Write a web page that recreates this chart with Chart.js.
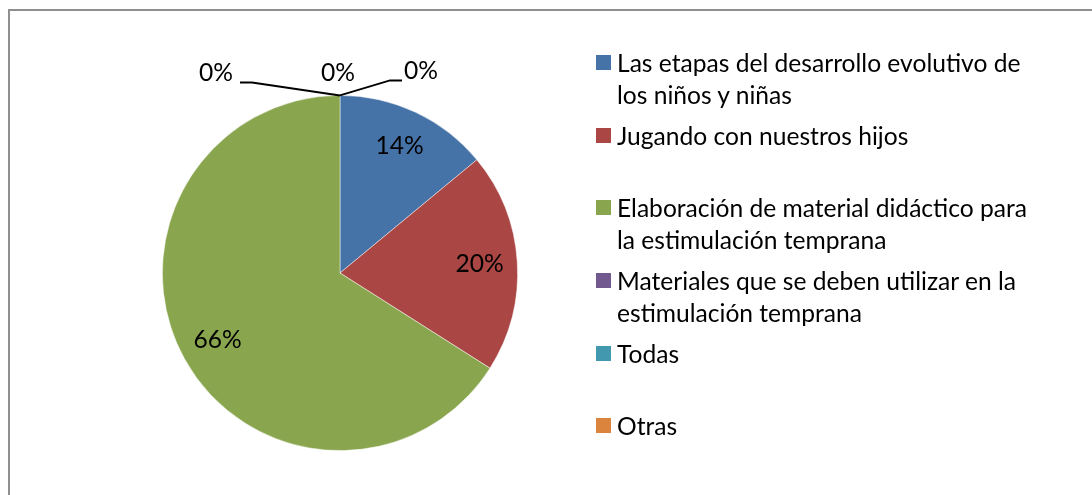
<!DOCTYPE html>
<html>
<head>
<meta charset="utf-8">
<script src="https://cdn.jsdelivr.net/npm/chart.js@4/dist/chart.umd.min.js"></script>
<style>
  html, body { margin: 0; padding: 0; background: #fff; }
  #wrap { position: relative; width: 1092px; height: 495px; overflow: hidden; }
  #frame { position: absolute; left: 8px; top: 9px; width: 1200px; height: 600px;
           border-left: 2px solid #8f8f8f; border-top: 2px solid #8f8f8f; }
  #c { position: absolute; left: 0; top: 0; }
  #legend { position: absolute; left: 596px; top: 47px; font-family: Lato, sans-serif;
            font-size: 24.6px; color: #000; }
  .item { position: relative; height: 72.7px; padding-left: 21px; line-height: 31.5px; white-space: nowrap; }
  .box { position: absolute; left: 0; top: 8px; width: 15px; height: 15px; }
</style>
</head>
<body>
<div id="wrap">
  <canvas id="c" width="1092" height="495"></canvas>
  <div id="legend"></div>
  <div id="frame"></div>
</div>
<script>
// Categories (each label split into its displayed lines)
const categories = [
    ['Las etapas del desarrollo evolutivo de', 'los niños y niñas'],
    ['Jugando con nuestros hijos'],
    ['Elaboración de material didáctico para', 'la estimulación temprana'],
    ['Materiales que se deben utilizar en la', 'estimulación temprana'],
    ['Todas'],
    ['Otras']
];
// Percentages per category
const percentages = [14, 20, 66, 0, 0, 0];
const sliceColors = ['#4572A7', '#AA4643', '#89A54E', '#71588F', '#4198AF', '#DB843D'];

// Draws the % labels: inside for non-zero slices, with leader lines for zero ones
const pieLabels = {
    id: 'pieLabels',
    afterDatasetsDraw(chart, args, opts) {
        const ctx = chart.ctx;
        const meta = chart.getDatasetMeta(0);
        const values = chart.data.datasets[0].data;
        ctx.save();
        ctx.font = opts.font;
        ctx.fillStyle = '#000';
        ctx.textAlign = 'center';
        ctx.textBaseline = 'middle';
        let zeroIdx = 0;
        meta.data.forEach((arc, i) => {
            const p = arc.getProps(['x', 'y', 'startAngle', 'endAngle', 'outerRadius'], true);
            const text = values[i] + '%';
            if (values[i] > 0) {
                const mid = (p.startAngle + p.endAngle) / 2;
                const r = p.outerRadius * opts.inset;
                ctx.fillText(text, p.x + Math.cos(mid) * r, p.y + Math.sin(mid) * r);
            } else {
                // anchor on the rim where the zero slice sits
                const ax = p.x + Math.cos(p.startAngle) * p.outerRadius;
                const ay = p.y + Math.sin(p.startAngle) * p.outerRadius;
                const o = opts.zeroOffsets[zeroIdx++];
                if (o.elbow) {
                    ctx.beginPath();
                    ctx.strokeStyle = '#000';
                    ctx.lineWidth = 2;
                    ctx.moveTo(ax, ay);
                    ctx.lineTo(ax + o.elbow[0], ay + o.elbow[1]);
                    ctx.lineTo(ax + o.elbow[2], ay + o.elbow[1]);
                    ctx.stroke();
                }
                ctx.fillText(text, ax + o.dx, ay + o.dy);
            }
        });
        ctx.restore();
    }
};

// HTML legend built from the chart data
const htmlLegend = {
    id: 'htmlLegend',
    afterUpdate(chart) {
        const box = document.getElementById('legend');
        box.innerHTML = '';
        chart.data.labels.forEach((lines, i) => {
            const item = document.createElement('div');
            item.className = 'item';
            const sw = document.createElement('span');
            sw.className = 'box';
            sw.style.background = chart.data.datasets[0].backgroundColor[i];
            item.appendChild(sw);
            lines.forEach((line, j) => {
                if (j > 0) item.appendChild(document.createElement('br'));
                item.appendChild(document.createTextNode(line));
            });
            box.appendChild(item);
        });
    }
};

new Chart(document.getElementById('c'), {
    type: 'pie',
    data: {
        labels: categories,
        datasets: [{
            data: percentages,
            backgroundColor: sliceColors,
            borderColor: 'rgba(255,255,255,0.6)',
            borderWidth: 0.8
        }]
    },
    options: {
        responsive: false,
        animation: false,
        layout: { padding: { left: 162, right: 574, top: 95, bottom: 44 } },
        plugins: {
            legend: { display: false },
            tooltip: { enabled: false },
            pieLabels: {
                font: '24.6px Lato, sans-serif',
                inset: 0.787,
                zeroOffsets: [
                    { dx: -124, dy: -22, elbow: [-88, -13, -100] },
                    { dx: -2, dy: -22 },
                    { dx: 81, dy: -24, elbow: [50, -15, 62] }
                ]
            }
        }
    },
    plugins: [pieLabels, htmlLegend]
});
</script>
</body>
</html>
